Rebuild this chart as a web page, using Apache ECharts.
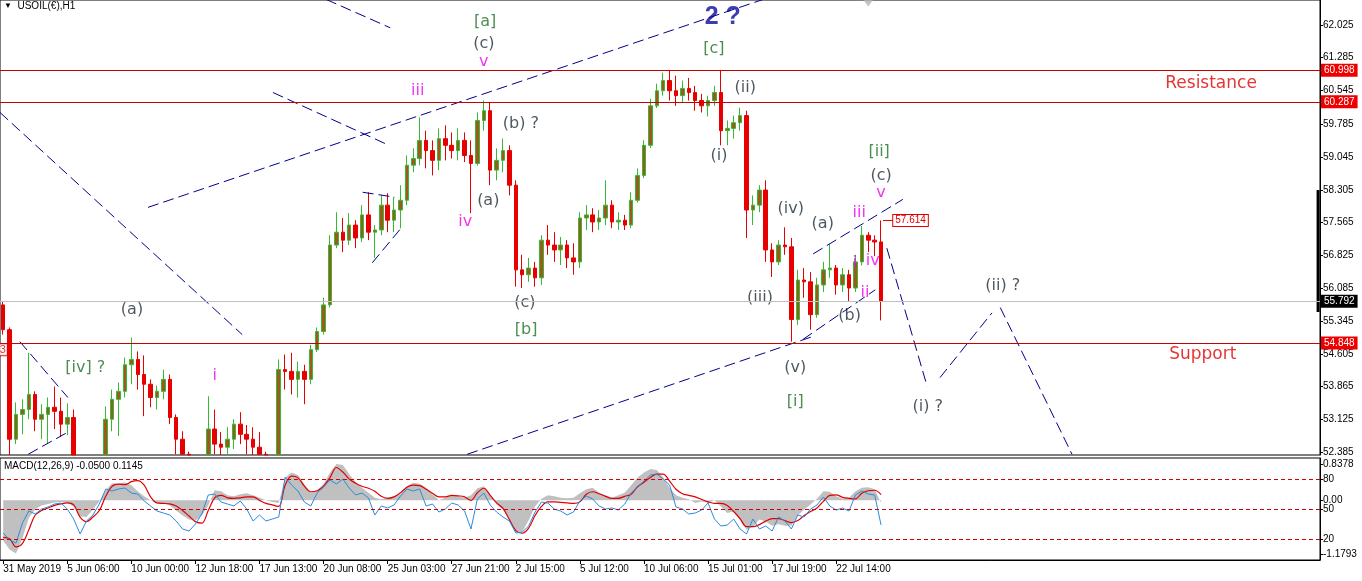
<!DOCTYPE html>
<html><head><meta charset="utf-8">
<script src="https://cdn.jsdelivr.net/npm/echarts@6/dist/echarts.min.js"></script>
<style>html,body{margin:0;padding:0;background:#fff}#c{width:1362px;height:581px}</style>
</head><body><div id="c"></div>
<script>
// ---------- DATA ----------
const timeLabels = ['31 May 2019','5 Jun 06:00','10 Jun 00:00','12 Jun 18:00','17 Jun 13:00','20 Jun 08:00','25 Jun 03:00','27 Jun 21:00','2 Jul 15:00','5 Jul 12:00','10 Jul 06:00','15 Jul 01:00','17 Jul 19:00','22 Jul 14:00'];
const LABEL_STEP = 10;
const N_SLOTS = 206;

const opens = [55.71,55.15,52.68,53.24,53.35,53.69,53.13,53.24,53.40,53.31,
53.02,53.17,52.01,51.80,51.70,51.95,52.10,53.13,53.58,53.76,
54.36,54.48,54.14,53.92,53.62,53.76,54.03,53.17,52.68,52.34,
52.05,51.95,52.20,52.91,52.57,52.50,52.68,53.02,52.79,52.68,
52.50,52.34,52.10,52.15,54.25,54.21,54.03,54.21,54.03,54.70,
55.11,55.71,57.06,57.35,57.17,57.51,57.22,57.74,57.35,57.40,
57.96,57.62,57.85,58.07,58.86,59.01,59.42,59.19,58.97,59.46,
59.31,59.19,59.42,59.08,58.90,59.87,60.09,58.75,58.97,59.19,
58.41,56.50,56.39,56.54,56.32,57.17,57.06,56.95,57.06,56.77,
56.68,57.67,57.74,57.58,57.67,57.96,57.58,57.62,57.51,58.07,
58.63,59.31,60.20,60.54,60.77,60.54,60.43,60.59,60.50,60.32,
60.20,60.32,60.50,59.64,59.69,59.82,59.98,57.85,57.96,58.30,
56.95,56.68,57.06,57.02,55.38,56.27,56.23,55.49,56.16,56.50,
56.54,56.16,56.39,56.09,56.68,57.28,57.17,57.13];
const highs = [55.78,55.20,53.51,53.58,54.63,53.76,53.47,53.62,53.87,53.62,
53.49,53.35,52.20,52.05,52.10,52.25,53.42,53.80,53.96,54.52,
54.97,54.66,54.57,54.03,53.89,54.25,54.14,53.24,52.86,52.40,
52.25,52.30,53.65,53.35,52.84,52.95,53.13,53.29,53.00,52.95,
52.84,52.40,52.30,54.48,54.59,54.63,54.43,54.36,54.81,55.20,
55.87,57.28,57.80,57.67,57.78,57.62,57.96,58.25,57.51,58.18,
58.23,58.14,58.41,59.08,59.24,59.94,59.64,59.42,59.69,59.76,
59.60,59.69,59.60,59.42,60.05,60.32,60.27,59.24,59.46,59.31,
58.52,56.84,56.77,56.68,57.28,57.51,57.35,57.24,57.17,57.10,
57.80,57.96,57.89,57.85,58.52,58.07,57.80,57.74,58.25,58.79,
59.42,60.36,60.70,60.95,61.01,60.88,60.77,60.83,60.65,60.47,
60.43,60.65,61.01,59.87,59.98,60.16,60.09,58.18,58.41,58.52,
57.10,57.17,57.46,57.22,56.50,56.54,56.45,56.32,56.68,57.08,
56.61,56.54,56.50,56.84,57.49,57.35,57.28,57.614];
const lows = [55.04,52.01,52.57,52.79,53.13,52.86,52.68,52.57,52.91,52.73,
52.77,51.78,51.60,51.45,51.50,51.75,51.95,52.86,52.75,53.62,
53.92,53.80,53.20,53.40,53.35,53.58,53.02,52.34,52.12,51.90,
51.80,51.85,52.10,52.34,52.23,52.28,52.46,52.57,52.34,52.28,
52.19,51.95,51.90,52.05,53.80,53.69,53.62,53.47,53.92,54.65,
55.04,55.65,56.99,56.90,57.06,56.99,57.13,57.17,56.77,57.28,
57.35,57.35,57.44,57.96,58.70,58.86,58.79,58.63,58.75,58.97,
59.01,58.97,58.93,57.78,58.85,59.64,58.41,58.52,58.70,58.18,
56.12,56.09,56.23,56.12,56.16,56.84,56.68,56.61,56.54,56.39,
56.54,57.40,57.35,57.40,57.51,57.44,57.40,57.40,57.44,58.02,
58.57,59.25,60.15,60.43,60.32,60.20,60.27,60.32,60.09,60.05,
59.96,60.20,59.31,59.31,59.46,59.64,57.22,57.51,57.80,56.68,
56.34,56.61,56.84,54.88,55.26,55.87,55.15,55.42,56.00,56.32,
55.94,56.00,55.78,56.00,56.60,56.90,56.81,55.36];
const closes = [55.15,52.68,53.24,53.35,53.69,53.13,53.24,53.40,53.31,53.02,
53.17,52.01,51.80,51.70,51.95,52.10,53.13,53.58,53.76,54.36,
54.48,54.14,53.92,53.62,53.76,54.03,53.17,52.68,52.34,52.05,
51.95,52.20,52.91,52.57,52.50,52.68,53.02,52.79,52.68,52.50,
52.34,52.10,52.15,54.25,54.21,54.03,54.21,54.03,54.70,55.11,
55.71,57.06,57.35,57.17,57.51,57.22,57.74,57.35,57.40,57.96,
57.62,57.85,58.07,58.86,59.01,59.42,59.19,58.97,59.46,59.31,
59.19,59.42,59.08,58.90,59.87,60.09,58.75,58.97,59.19,58.41,
56.50,56.39,56.54,56.32,57.17,57.06,56.95,57.06,56.77,56.68,
57.67,57.74,57.58,57.67,57.96,57.58,57.62,57.51,58.07,58.63,
59.31,60.20,60.54,60.77,60.54,60.43,60.59,60.50,60.32,60.20,
60.32,60.50,59.64,59.69,59.82,59.98,57.85,57.96,58.30,56.95,
56.68,57.06,57.02,55.38,56.27,56.23,55.49,56.16,56.50,56.54,
56.16,56.39,56.09,56.68,57.28,57.17,57.13,55.792];

const macdMain = [-0.80,-0.97,-1.05,-0.75,-0.35,-0.17,-0.10,-0.07,-0.04,-0.03,
-0.05,-0.12,-0.32,-0.33,-0.18,-0.02,0.20,0.34,0.33,0.36,
0.30,0.18,0.08,0.00,-0.06,-0.06,-0.10,-0.20,-0.30,-0.38,
-0.40,-0.30,-0.10,0.20,0.18,0.10,0.08,0.12,0.14,0.10,
0.05,0.00,-0.03,-0.05,0.45,0.55,0.50,0.32,0.15,0.20,
0.33,0.55,0.72,0.70,0.52,0.36,0.25,0.15,0.05,0.02,
0.05,0.08,0.12,0.28,0.35,0.33,0.25,0.12,0.00,0.05,
0.10,0.08,0.05,0.10,0.24,0.28,0.12,-0.08,-0.18,-0.38,
-0.62,-0.62,-0.40,-0.12,0.03,0.10,0.08,0.05,0.04,0.05,
0.14,0.22,0.25,0.15,0.10,0.05,0.10,0.15,0.30,0.45,
0.55,0.62,0.60,0.45,0.25,0.10,0.05,0.02,-0.05,-0.02,
-0.05,0.00,-0.12,-0.25,-0.22,-0.40,-0.58,-0.52,-0.38,-0.42,
-0.50,-0.47,-0.50,-0.50,-0.30,-0.18,-0.08,0.03,0.18,0.17,
0.08,0.03,0.05,0.18,0.25,0.26,0.22,-0.05];
const macdSignal = [-0.73,-0.76,-0.92,-0.85,-0.58,-0.29,-0.20,-0.15,-0.10,-0.07,
-0.05,-0.09,-0.33,-0.42,-0.33,-0.20,0.08,0.28,0.32,0.31,
0.37,0.39,0.30,0.07,-0.05,-0.06,-0.07,-0.11,-0.20,-0.31,
-0.42,-0.45,-0.20,0.05,0.10,0.05,0.04,0.05,0.07,0.07,
0.00,-0.06,-0.09,-0.12,0.30,0.48,0.45,0.28,0.17,0.19,
0.28,0.45,0.65,0.56,0.42,0.34,0.28,0.24,0.18,0.08,
0.04,0.07,0.15,0.26,0.30,0.29,0.22,0.14,0.07,0.07,
0.10,0.09,0.07,0.00,0.15,0.24,0.10,-0.05,-0.16,-0.38,
-0.60,-0.65,-0.55,-0.30,-0.12,-0.03,-0.03,-0.04,-0.05,-0.06,
-0.03,0.12,0.17,0.13,0.08,0.04,0.04,0.08,0.12,0.27,
0.36,0.45,0.52,0.52,0.38,0.22,0.13,0.10,0.07,0.02,
-0.03,-0.06,-0.06,-0.10,-0.22,-0.36,-0.52,-0.52,-0.48,-0.41,
-0.36,-0.36,-0.40,-0.44,-0.40,-0.30,-0.22,-0.15,-0.02,0.10,
0.11,0.06,0.04,0.03,0.14,0.19,0.20,0.1145];
const oscLine = [26,19,16,36,48,45,50,52,55,56,
50,40,25,38,44,55,70,68,70,71,
66,65,58,53,48,46,44,38,30,28,
35,45,64,65,57,55,53,58,50,38,
44,38,40,42,82,74,68,57,53,66,
72,79,75,80,71,64,66,61,44,53,
51,54,63,70,68,70,53,55,47,50,
56,54,48,30,60,66,54,47,42,38,
26,27,33,47,57,56,50,48,44,47,
58,63,60,53,50,51,49,55,66,72,
78,84,85,80,74,52,50,45,46,49,
56,40,33,34,40,30,25,40,30,33,
28,42,38,30,44,42,50,54,62,53,
49,51,48,64,68,65,64,34];

const priceTicks = ['52.385','53.125','53.865','54.605','55.345','56.085','56.825','57.565','58.305','59.045','59.785','60.545','61.285','62.025'];
const priceMin = 52.324, priceMax = 62.587;
const resistanceLevels = [60.998, 60.287];
const supportLevels = [54.848];
const lastPrice = 55.792;
const macdMin = -1.1793, macdMax = 0.8378;
const oscMin = -1, oscMax = 101;
const oscLevels = [80, 50, 20];
const priceScaleBar = [55.55, 58.30];

// wave / text annotations anchored at (bar index, price)
const waveText  = ['(a)','[iv] ?','i','iii','[a]','(c)','v','(b) ?','(a)','iv','(c)','[b]','2 ?','[c]','(ii)','(i)','(iv)','(a)','(iii)','(b)','(v)','[i]','[ii]','(c)','v','iii','i','iv','ii','(i) ?','(ii) ?','Resistance','Support','3'];
const waveBar   = [20.1,12.8,33.0,64.7,75.2,75.0,75.0,80.8,75.7,72.1,81.4,81.6,112.3,110.9,115.8,111.7,122.9,127.9,118.1,132.1,123.6,123.6,136.7,137.0,137.0,133.6,132.9,135.7,134.5,144.3,156.0,188.5,187.2,-0.05];
const wavePrice = [55.60,54.30,54.10,60.54,62.09,61.60,61.19,59.80,58.05,57.58,55.76,55.15,62.20,61.49,60.61,59.08,57.87,57.53,55.87,55.47,54.30,53.53,59.17,58.63,58.23,57.78,56.66,56.70,55.98,53.42,56.14,60.70,54.59,54.70];
const waveKind  = ['minor','inter','sub','sub','inter','minor','sub','minor','minor','sub','minor','inter','major','inter','minor','minor','minor','minor','minor','minor','minor','inter','inter','minor','sub','sub','sub','sub','sub','minor','minor','level','level','tag'];

// dashed trend / projection lines: [bar1, price1, bar2, price2]
const trendLines = [
  [-0.5,60.05,37.3,55.04],
  [22.6,57.91,118.6,62.60],
  [42.1,60.50,59.9,59.33],
  [50.4,62.60,60.4,61.96],
  [72.4,52.34,126.2,54.99],
  [124.8,54.93,136.1,56.05],
  [126.4,56.86,140.4,58.09],
  [56.1,58.25,61.1,58.14],
  [57.6,56.66,62.2,57.46],
  [2.6,54.88,10.1,53.62],
  [3.9,52.34,10.1,52.84],
  [137.9,56.99,144.2,53.87],
  [146.2,54.07,154.3,55.53],
  [155.6,55.65,166.8,52.34]
];

// ---------- CHART ----------
const FONT = 'Liberation Sans';
const LFONT = 'DejaVu Sans';
const slotNames = Array.from({length: N_SLOTS}, (_, i) => String(i));
const isLabelSlot = i => i % LABEL_STEP === 0 && (i / LABEL_STEP) < timeLabels.length;
// candles: parts below the visible price range are cut at the panel floor
const floorAt = v => Math.max(v, priceMin);
const candles = opens.map((o, i) => highs[i] <= priceMin ? '-' :
  [floorAt(o), floorAt(closes[i]), floorAt(lows[i]), highs[i]]);

const waveStyles = {
  minor: {color: '#1e2c36', fontSize: 16, fontFamily: LFONT},
  inter: {color: '#1f7026', fontSize: 16, fontFamily: LFONT},
  sub:   {color: '#f000f0', fontSize: 16, fontFamily: LFONT},
  major: {color: '#0c0c9c', fontSize: 25, fontWeight: 'bold', fontFamily: FONT},
  level: {color: '#e00000', fontSize: 17, fontFamily: LFONT},
  tag:   {color: '#e00000', fontSize: 11, fontFamily: FONT, borderColor: '#e00000', borderWidth: 1, padding: [0, 1], backgroundColor: '#fff'}
};

const tagLabel = (bg, v) => ({
  show: true, position: 'end', distance: 1,
  formatter: v.toFixed(3),
  backgroundColor: bg, color: '#fff', padding: [2, 3, 1, 3],
  fontSize: 10, fontFamily: FONT
});

const edgePad = (macdMax - macdMin) * 6 / 102;
const levelStyle = {color: '#c80000', width: 1, type: 'solid'};
const oscLevelStyle = {color: '#d00000', width: 1, type: [4, 3]};

const series = [];
series.push({
  type: 'candlestick', xAxisIndex: 0, yAxisIndex: 0, data: candles,
  barWidth: 4, clip: true,
  itemStyle: {color: '#9c5a1c', color0: '#e80000', borderColor: '#33bb33', borderColor0: '#e80000', borderWidth: 1},
  markLine: {
    symbol: 'none', silent: true, animation: false,
    data: [
      ...resistanceLevels.map(v => ({yAxis: v, lineStyle: levelStyle, label: tagLabel('#ee0000', v)})),
      ...supportLevels.map(v => ({yAxis: v, lineStyle: levelStyle, label: tagLabel('#ee0000', v)})),
      {yAxis: lastPrice, lineStyle: {color: '#c0c0c0', width: 1, type: 'solid'}, label: tagLabel('#000000', lastPrice)}
    ]
  }
});

trendLines.forEach(t => series.push({
  type: 'line', xAxisIndex: 1, yAxisIndex: 0, silent: true, symbol: 'none',
  data: [[t[0], t[1]], [t[2], t[3]]],
  lineStyle: {color: '#00008b', width: 1, type: [11, 5]}
}));

// price label of last high
series.push({
  type: 'line', xAxisIndex: 1, yAxisIndex: 0, silent: true, symbol: 'none',
  data: [[opens.length - 0.7, highs[highs.length - 1]], [opens.length + 0.9, highs[highs.length - 1]]],
  lineStyle: {color: '#e00000', width: 1},
  endLabel: {show: true, formatter: () => highs[highs.length - 1].toFixed(3), color: '#e00000', borderColor: '#e00000', borderWidth: 1, backgroundColor: '#fff', padding: [1, 2, 0, 2], distance: 0, fontSize: 10, fontFamily: FONT}
});

// black range bar on the price scale
series.push({
  type: 'line', xAxisIndex: 1, yAxisIndex: 0, silent: true, symbol: 'none', clip: false,
  data: [[N_SLOTS - 0.8, priceScaleBar[0]], [N_SLOTS - 0.8, priceScaleBar[1]]],
  lineStyle: {color: '#000', width: 3}
});

// chart-shift marker
series.push({
  type: 'scatter', xAxisIndex: 1, yAxisIndex: 0, silent: true,
  data: [[opens.length - 3, priceMax - 0.07]],
  symbol: 'triangle', symbolRotate: 180, symbolSize: [10, 7],
  itemStyle: {color: '#b4b4b4'}
});

// wave labels
series.push({
  type: 'scatter', xAxisIndex: 1, yAxisIndex: 0, silent: true, symbolSize: 1, clip: false,
  itemStyle: {color: 'rgba(0,0,0,0)'},
  data: waveText.map((t, i) => ({
    value: [waveBar[i], wavePrice[i]],
    label: Object.assign({show: true, position: 'inside', formatter: t}, waveStyles[waveKind[i]])
  }))
});

// MACD panel
series.push({
  type: 'line', xAxisIndex: 2, yAxisIndex: 1, data: macdMain, symbol: 'none', silent: true,
  lineStyle: {width: 0, color: '#c0c0c0'}, areaStyle: {color: '#c0c0c0', opacity: 1}
});
series.push({
  type: 'line', xAxisIndex: 2, yAxisIndex: 1, data: macdSignal, symbol: 'none', silent: true, smooth: 0.35,
  lineStyle: {width: 1.2, color: '#e00000'}
});
series.push({
  type: 'line', xAxisIndex: 2, yAxisIndex: 2, data: oscLine, symbol: 'none', silent: true,
  lineStyle: {width: 1, color: '#2a8be0'},
  markLine: {symbol: 'none', silent: true, animation: false, label: {show: false},
    data: oscLevels.map(v => ({yAxis: v, lineStyle: oscLevelStyle})),
    lineStyle: oscLevelStyle}
});

const option = {
  animation: false,
  backgroundColor: '#ffffff',
  title: [
    {text: '{t|▼}  USOIL(€),H1', left: 4, top: 1, padding: 0,
     textStyle: {fontSize: 10, fontWeight: 'normal', fontFamily: FONT, color: '#000', rich: {t: {fontSize: 8, color: '#000'}}}},
    {text: 'MACD(12,26,9) ' + macdMain[macdMain.length - 1].toFixed(4) + ' ' + macdSignal[macdSignal.length - 1].toFixed(4),
     left: 4, top: 461, padding: 0,
     textStyle: {fontSize: 10, fontWeight: 'normal', fontFamily: FONT, color: '#000'}}
  ],
  grid: [
    {left: 0, top: -1, width: 1320, height: 456, show: true, borderColor: '#000', borderWidth: 1, backgroundColor: '#fff'},
    {left: 0, top: 458, width: 1320, height: 102, show: true, borderColor: '#000', borderWidth: 1, backgroundColor: '#fff'}
  ],
  xAxis: [
    {type: 'category', gridIndex: 0, data: slotNames, show: false},
    {type: 'value', gridIndex: 0, min: -0.5, max: N_SLOTS - 0.5, show: false},
    {type: 'category', gridIndex: 1, data: slotNames, position: 'bottom',
     axisLine: {show: true, onZero: false, lineStyle: {color: '#000'}},
     axisTick: {show: true, alignWithLabel: true, length: 4, interval: i => isLabelSlot(i), lineStyle: {color: '#000'}},
     axisLabel: {interval: i => isLabelSlot(i), formatter: (v, i) => isLabelSlot(i) ? timeLabels[i / LABEL_STEP] : '',
                 align: 'left', margin: 4, fontSize: 10, fontFamily: FONT, color: '#000'},
     splitLine: {show: false}}
  ],
  yAxis: [
    {type: 'value', gridIndex: 0, position: 'right', min: priceMin, max: priceMax, scale: true,
     axisLine: {show: true, onZero: false, lineStyle: {color: '#000'}},
     axisTick: {show: true, length: 3, customValues: priceTicks.map(Number), lineStyle: {color: '#000'}},
     axisLabel: {customValues: priceTicks.map(Number), formatter: v => v.toFixed(3), margin: 3, fontSize: 10, fontFamily: FONT, color: '#000'},
     splitLine: {show: false}},
    {type: 'value', gridIndex: 1, position: 'right', min: macdMin, max: macdMax,
     axisLine: {show: true, onZero: false, lineStyle: {color: '#000'}},
     axisTick: {show: true, length: 3, customValues: [macdMax - edgePad, 0, macdMin + edgePad], lineStyle: {color: '#000'}},
     axisLabel: {customValues: [macdMax - edgePad, 0, macdMin + edgePad],
                 formatter: v => v > 0.3 ? macdMax.toFixed(4) : (v < -0.3 ? macdMin.toFixed(4) : '0.00'),
                 margin: 3, fontSize: 10, fontFamily: FONT, color: '#000'},
     splitLine: {show: false}},
    {type: 'value', gridIndex: 1, position: 'right', min: oscMin, max: oscMax,
     axisLine: {show: false, onZero: false},
     axisTick: {show: true, length: 3, customValues: oscLevels, lineStyle: {color: '#000'}},
     axisLabel: {customValues: oscLevels, formatter: v => String(v), margin: 3, fontSize: 10, fontFamily: FONT, color: '#000'},
     splitLine: {show: false}}
  ],
  series: series
};

const chart = echarts.init(document.getElementById('c'), null, {renderer: 'canvas', width: 1362, height: 581});
chart.setOption(option);
</script>
</body></html>
